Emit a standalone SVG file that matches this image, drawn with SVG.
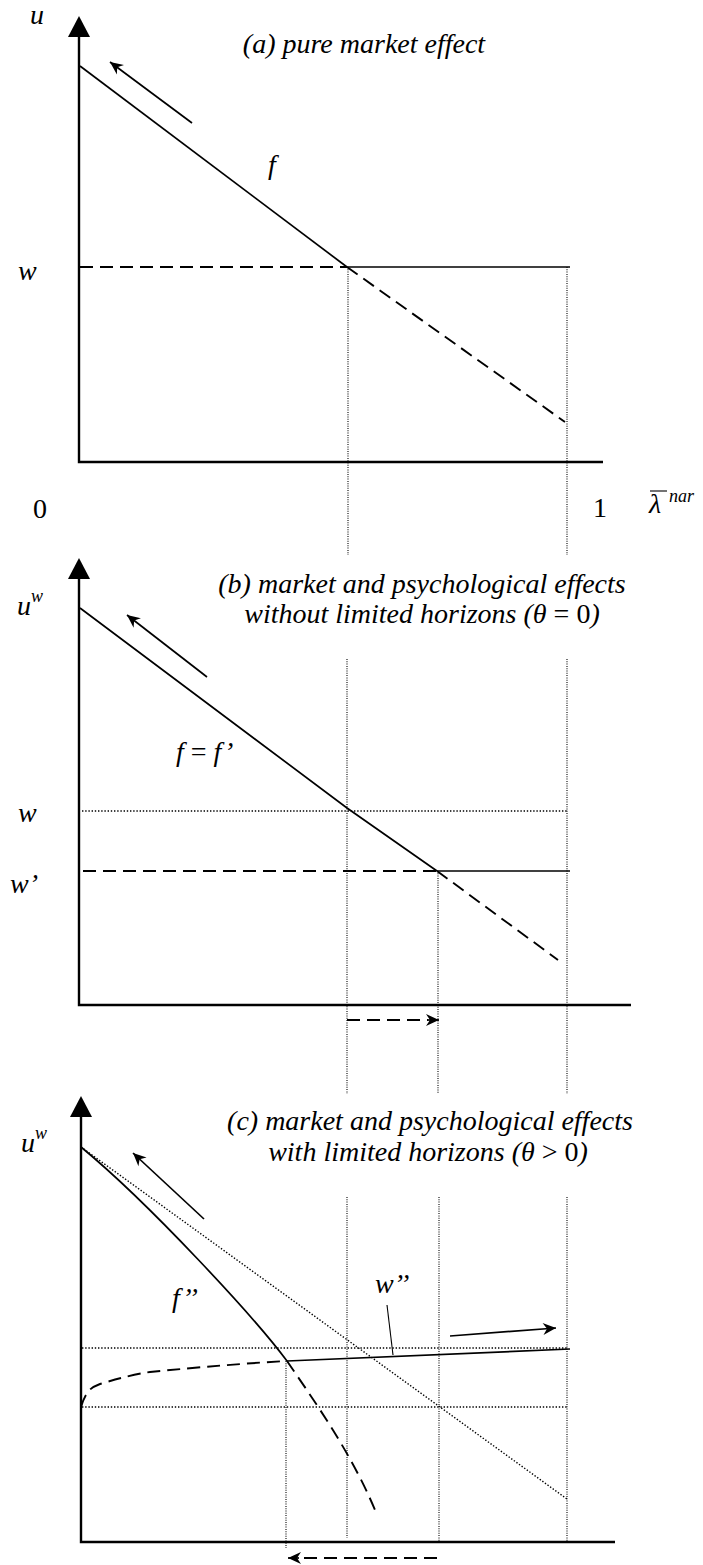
<svg xmlns="http://www.w3.org/2000/svg" width="703" height="1565" viewBox="0 0 703 1565">
<style>
  .t { font-family: "Liberation Serif", "Times New Roman", serif; font-size: 28px; font-style: italic; fill: #000; }
  .n { font-style: normal; }
  .sup { font-size: 18px; }
  .axis { stroke: #000; stroke-width: 2.4; fill: none; }
  .solid { stroke: #000; stroke-width: 1.7; fill: none; }
  .dash { stroke: #000; stroke-width: 1.9; fill: none; stroke-dasharray: 13 7; }
  .dot { stroke: #000; stroke-width: 1.4; fill: none; stroke-dasharray: 1.4 1.8; }
  .vdot { stroke: #000; stroke-width: 1.1; fill: none; stroke-dasharray: 1 1.3; }
  .thin { stroke: #000; stroke-width: 1.1; fill: none; }
</style>
<defs>
  <marker id="arr" viewBox="-14 -7 15 14" refX="0" refY="0" markerWidth="15" markerHeight="14" markerUnits="userSpaceOnUse" orient="auto">
    <path d="M0,0 L-13,-6 L-9,0 L-13,6 Z" fill="#000"/>
  </marker>
</defs>
<rect width="703" height="1565" fill="#fff"/>

<!-- Panel (a) -->
<g id="panel-a">
  <polygon points="79,16 68,37 90,37" fill="#000"/>
  <path class="axis" d="M79,37 V462 H603"/>
  <path class="vdot" d="M348,267 V555 M567,267 V555"/>
  <path class="dash" d="M80,267 H347"/>
  <path class="solid" d="M347,267 H570"/>
  <path class="solid" d="M80,66 L347,267"/>
  <path class="dash" d="M347,267 L565,422"/>
  <path class="solid" d="M192,123 L110,62" marker-end="url(#arr)"/>
  <text class="t" x="30" y="24">u</text>
  <text class="t" x="364" y="53" text-anchor="middle">(a) pure market effect</text>
  <text class="t" x="268" y="174">f</text>
  <text class="t" x="18" y="280">w</text>
  <text class="t n" x="33" y="518">0</text>
  <text class="t n" x="593" y="517">1</text>
  <text class="t" x="649" y="513">λ</text>
  <line class="thin" x1="650" y1="491" x2="667" y2="491" stroke-width="1.2"/>
  <text class="t sup" x="669" y="502">nar</text>
</g>

<!-- Panel (b) -->
<g id="panel-b">
  <polygon points="79,558 68,579 90,579" fill="#000"/>
  <path class="axis" d="M79,579 V1005 H631"/>
  <path class="vdot" d="M347,659 V1094 M567,659 V1094 M438,871 V1094"/>
  <path class="dot" d="M82,811 H567"/>
  <path class="dash" d="M83,871 H437"/>
  <path class="solid" d="M437,871 H570"/>
  <path class="solid" d="M80,608 L347,808 L437,871"/>
  <path class="dash" d="M437,871 L558,960"/>
  <path class="solid" d="M207,677 L127,615" marker-end="url(#arr)"/>
  <path class="dash" d="M347,1020 H428"/>
  <path class="solid" d="M428,1020 H439" marker-end="url(#arr)"/>
  <text class="t" x="17" y="615">u<tspan class="sup" dy="-13">w</tspan></text>
  <text class="t" x="422" y="593" text-anchor="middle">(b) market and psychological effects</text>
  <text class="t" x="422" y="623" text-anchor="middle">without limited horizons (θ<tspan class="n"> = 0</tspan>)</text>
  <text class="t" x="176" y="761">f<tspan class="n"> = </tspan>f’</text>
  <text class="t" x="18" y="822">w</text>
  <text class="t" x="10" y="893">w’</text>
</g>

<!-- Panel (c) -->
<g id="panel-c">
  <polygon points="81,1096 70,1117 92,1117" fill="#000"/>
  <path class="axis" d="M81,1117 V1542 H615"/>
  <path class="vdot" d="M347,1197 V1538 M439,1197 V1542 M567,1197 V1542 M286,1361 V1548"/>
  <path class="dot" d="M82,1348 H567 M82,1407 H567"/>
  <path class="dot" d="M81,1147 L567,1499"/>
  <path class="solid" d="M81,1147 C150,1204 255,1318 287,1361"/>
  <path class="dash" d="M287,1361 C310,1395 350,1450 375,1510"/>
  <path class="dash" d="M81,1407 C86,1390 92,1387 100,1384 C120,1378 135,1374 150,1372 C200,1367 250,1363 287,1361"/>
  <path class="solid" d="M287,1361 L570,1349"/>
  <path class="thin" d="M387,1305 L393,1355"/>
  <path class="solid" d="M204,1219 L133,1153" marker-end="url(#arr)"/>
  <path class="solid" d="M450,1336 L556,1328" marker-end="url(#arr)"/>
  <path class="dash" d="M437,1558 H298"/>
  <path class="solid" d="M299,1558 H288" marker-end="url(#arr)"/>
  <text class="t" x="21" y="1152">u<tspan class="sup" dy="-13">w</tspan></text>
  <text class="t" x="430" y="1130" text-anchor="middle">(c) market and psychological effects</text>
  <text class="t" x="428" y="1161" text-anchor="middle">with limited horizons (θ<tspan class="n"> &gt; 0</tspan>)</text>
  <text class="t" x="172" y="1307">f’’</text>
  <text class="t" x="375" y="1293">w’’</text>
</g>
</svg>
